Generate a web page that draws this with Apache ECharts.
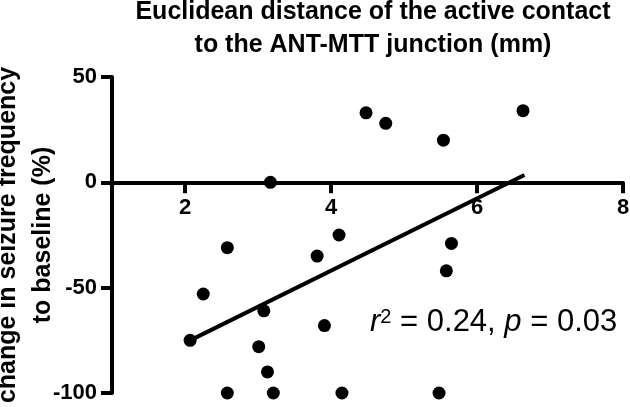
<!DOCTYPE html>
<html>
<head>
<meta charset="utf-8">
<script src="https://cdn.jsdelivr.net/npm/echarts@6/dist/echarts.min.js"></script>
<style>
  html, body { margin: 0; padding: 0; background: #fff; }
  #chart { width: 630px; height: 407px; }
</style>
</head>
<body>
<div id="chart"></div>
<script>
// distance to ANT-MTT junction (mm) vs change in seizure frequency (%)
var distance = [3.17, 2.58, 2.25, 3.08, 2.07, 3.01, 3.13, 2.58, 3.21, 3.81,
  4.48, 4.75, 5.54, 6.63, 4.11, 5.65, 5.58, 3.91, 4.15, 5.48];
var change = [0, -31, -53, -61, -75, -78, -90, -100, -100, -35,
  33, 28, 20, 34, -25, -29, -42, -68, -100, -100];
// regression line end points
var fitX = [2.07, 6.65];
var fitY = [-75, 3.5];
var xTicks = [2, 4, 6, 8];

var FONT = '"Liberation Sans", Arial, sans-serif';

var points = distance.map(function (d, i) { return [d, change[i]]; });
var fit = fitX.map(function (d, i) { return [d, fitY[i]]; });

// grid box, the x axis sits on y = 0
var gridTop = 77, gridBottom = 14, H = 407;
var yMin = -100, yMax = 50;
var plotH = H - gridTop - gridBottom;
var zeroOffset = plotH * (0 - yMin) / (yMax - yMin);

var chart = echarts.init(document.getElementById('chart'));
chart.setOption({
  animation: false,
  backgroundColor: '#fff',
  title: {
    text: 'Euclidean distance of the active contact\nto the ANT-MTT junction (mm)',
    left: 368,
    top: -9,
    textAlign: 'center',
    textStyle: {
      fontFamily: FONT, fontWeight: 'bold', fontSize: 25, lineHeight: 33, color: '#000'
    }
  },
  grid: { left: 112, right: 7, top: gridTop, bottom: gridBottom, containLabel: false, outerBoundsMode: 'none' },
  xAxis: {
    type: 'value',
    min: 1,
    max: 8,
    offset: -zeroOffset,
    splitLine: { show: false },
    axisLine: { onZero: false, lineStyle: { color: '#000', width: 4 } },
    axisTick: { customValues: xTicks, length: 11, lineStyle: { color: '#000', width: 4 } },
    axisLabel: {
      customValues: xTicks, margin: 15,
      fontFamily: FONT, fontWeight: 'bold', fontSize: 22, color: '#000'
    }
  },
  yAxis: {
    type: 'value',
    min: yMin,
    max: yMax,
    interval: 50,
    name: 'change in seizure frequency\nto baseline (%)',
    nameLocation: 'middle',
    nameGap: 51,
    nameMoveOverlap: false,
    nameTextStyle: {
      fontFamily: FONT, fontWeight: 'bold', fontSize: 25, lineHeight: 35, color: '#000'
    },
    splitLine: { show: false },
    axisLine: { show: true, onZero: false, lineStyle: { color: '#000', width: 4 } },
    axisTick: { show: true, length: 11, lineStyle: { color: '#000', width: 4 } },
    axisLabel: {
      margin: 15,
      fontFamily: FONT, fontWeight: 'bold', fontSize: 22, color: '#000'
    }
  },
  graphic: [{
    type: 'text',
    left: 370,
    top: 307,
    style: {
      text: '{i|r}{s|2}{n| = 0.24, }{i|p}{n| = 0.03}',
      rich: {
        i: { fontFamily: FONT, fontStyle: 'italic', fontSize: 31, fill: '#000' },
        s: { fontFamily: FONT, fontSize: 20, fill: '#000', verticalAlign: 'top' },
        n: { fontFamily: FONT, fontSize: 31, fill: '#000' }
      }
    }
  }],
  series: [{
    type: 'line',
    data: fit,
    symbol: 'none',
    lineStyle: { color: '#000', width: 4 },
    z: 3
  }, {
    type: 'scatter',
    data: points,
    symbol: 'circle',
    symbolSize: 13,
    clip: false,
    itemStyle: { color: '#000', opacity: 1 },
    z: 4
  }]
});
</script>
</body>
</html>
